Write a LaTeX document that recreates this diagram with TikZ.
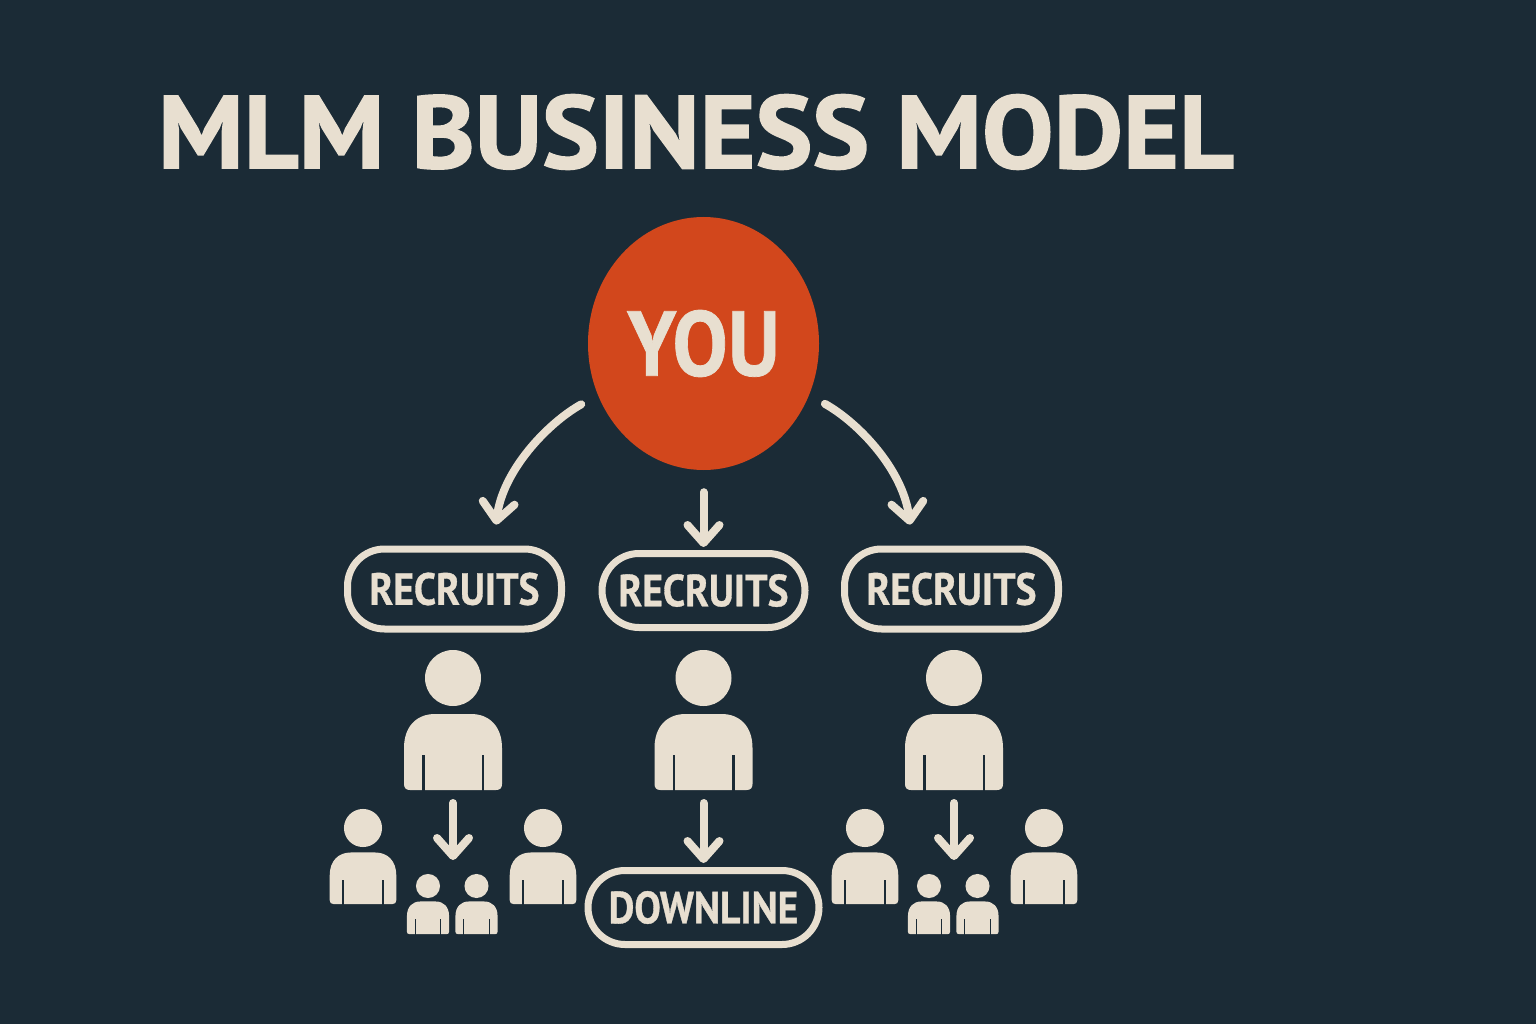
\documentclass[tikz,border=0pt]{standalone}
\usepackage{fontspec}
\setmainfont{PT Sans}
\newfontfamily\heavyfont{PT Sans Bold}[FakeBold=1.6]
\newfontfamily\pillfont{PT Sans Bold}[FakeBold=0.8]
\usetikzlibrary{shapes.geometric, arrows.meta, calc}
\definecolor{bgdark}{HTML}{1B2B36}
\definecolor{cream}{HTML}{E8DFD0}
\definecolor{youred}{HTML}{D2471C}
\newcommand{\narrow}[1]{\scalebox{.88}[1]{#1}}
\tikzset{
    pill/.style={draw=cream, line width=7pt, rounded corners=37pt, text=cream, font=\pillfont\fontsize{45}{45}\selectfont, inner sep=0pt, minimum height=80pt},
    link/.style={draw=cream, line width=8pt, line cap=round, -{Straight Barb[round,length=18pt,width=32pt]}},
    pics/person/.style={code={
        \fill[cream] (0,0) circle (28);
        \fill[cream] (-49,106) -- (-49,70) .. controls (-49,48) and (-36,36) .. (-18,36) -- (18,36)
            .. controls (36,36) and (49,48) .. (49,70) -- (49,106)
            .. controls (49,110) and (47,112) .. (43,112) -- (-43,112)
            .. controls (-47,112) and (-49,110) .. (-49,106) -- cycle;
        \fill[bgdark] (-31,77) rectangle (-28.5,113);
        \fill[bgdark] (28.5,77) rectangle (31,113);
        \coordinate (-foot) at (0,112);
    }}
}
\begin{document}
\begin{tikzpicture}[x=1pt, y=-1pt]
    \fill[bgdark] (0,0) rectangle (1536,1024);
    \useasboundingbox (0,0) rectangle (1536,1024);
    % Title
    \node[text=cream, font=\heavyfont\fontsize{103}{103}\selectfont] (title) at (696,132) {\scalebox{1.04}[1]{MLM BUSINESS MODEL}};
    % Top circle
    \node[ellipse, fill=youred, minimum width=231pt, minimum height=253pt, inner sep=0pt,
        label={[text=cream, font=\pillfont\fontsize{92}{92}\selectfont]center:\scalebox{.9}[1]{YOU}}] (you) at (703.5,343.5) {};
    % Recruits
    \node[pill, minimum width=214pt] (recruitsA) at (454.5,589) {\narrow{RECRUITS}};
    \node[pill, minimum width=203pt, minimum height=74pt] (recruitsB) at (703.5,590.5) {\narrow{RECRUITS}};
    \node[pill, minimum width=214pt] (recruitsC) at (951.5,589) {\narrow{RECRUITS}};
    \node[pill, minimum width=231pt, minimum height=74pt] (downline) at (703.5,907.5) {\narrow{DOWNLINE}};
    % People
    \pic (personA) at (453,678) {person};
    \pic (personB) at (703.5,678) {person};
    \pic (personC) at (954,678) {person};
    \pic[scale=.68] (sideA) at (363,828) {person};
    \pic[scale=.68] (sideB) at (543,828) {person};
    \pic[scale=.68] (sideC) at (865,828) {person};
    \pic[scale=.68] (sideD) at (1044,828) {person};
    \pic[scale=.43] (smallA) at (428,886) {person};
    \pic[scale=.43] (smallB) at (476.5,886) {person};
    \pic[scale=.43] (smallC) at (929,886) {person};
    \pic[scale=.43] (smallD) at (977.5,886) {person};
    \coordinate (tipA) at (453,860);
    \coordinate (tipC) at (954,860);
    % Arrows
    \draw[link, shorten <=19pt, shorten >=21pt] (you.206) .. controls +(-50,28) and +(9,-75) .. ($(recruitsA.north)+(39,0)$);
    \draw[link, shorten <=18pt, shorten >=21pt] (you.334) .. controls +(50,28) and +(-9,-75) .. ($(recruitsC.north)+(-39,0)$);
    \draw[link, shorten <=22pt, shorten >=3pt] (you.south) -- (recruitsB.north);
    \draw[link, shorten <=13pt] (personA-foot) -- (tipA);
    \draw[link, shorten <=13pt, shorten >=4pt] (personB-foot) -- (downline.north);
    \draw[link, shorten <=13pt] (personC-foot) -- (tipC);
\end{tikzpicture}
\end{document}
